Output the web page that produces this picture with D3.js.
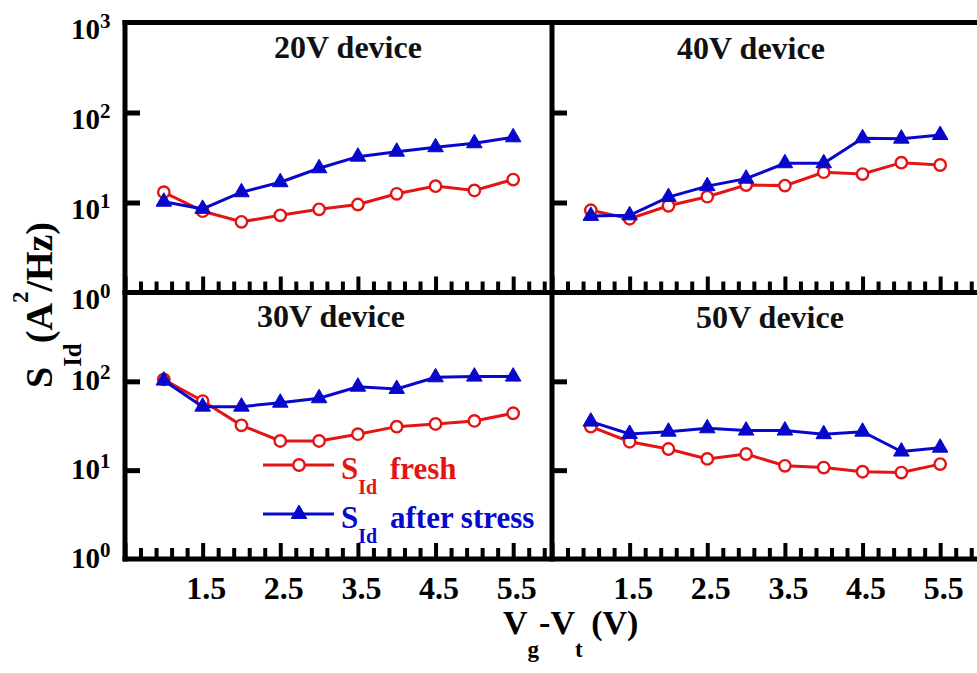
<!DOCTYPE html>
<html>
<head>
<meta charset="utf-8">
<script src="https://cdn.jsdelivr.net/npm/d3@7"></script>
<style>
  body { margin: 0; background: #fff; }
  svg { display: block; }
  text { font-family: "Liberation Serif", "Times New Roman", serif; font-weight: bold; }
</style>
</head>
<body>
<svg id="chart" width="977" height="673"></svg>
<script>
// Gate overdrive values (V) shared by every device
const vgvt = [1.0, 1.5, 2.0, 2.5, 3.0, 3.5, 4.0, 4.5, 5.0, 5.5];
const deviceNames = ["20V device", "40V device", "30V device", "50V device"];

// Drain-current noise PSD S_Id (A^2/Hz), fresh vs. after stress
const fresh20  = [13.0, 8.0, 6.1, 7.2, 8.4, 9.5, 12.5, 15.2, 13.6, 18.0];
const stress20 = [10.2, 8.5, 13.0, 16.8, 24.0, 32.3, 36.7, 41.1, 45.5, 53.0];
const fresh40  = [8.2, 6.6, 9.2, 11.6, 15.6, 15.4, 21.7, 20.7, 27.7, 26.1];
const stress40 = [7.1, 7.2, 11.5, 15.2, 18.4, 27.3, 27.3, 51.7, 51.2, 56.2];
const fresh30  = [105, 60, 32, 21.3, 21.3, 25.4, 30.9, 33.1, 35.8, 43.7];
const stress30 = [102, 51.9, 51.9, 57.5, 64.5, 87, 82, 111, 113, 113];
const fresh50  = [30.9, 20.9, 17.3, 13.4, 15.2, 11.2, 10.7, 9.6, 9.4, 11.7];
const stress50 = [35.2, 25.6, 27.1, 29.6, 27.9, 27.9, 25.4, 27.1, 16.2, 17.9];

const xLabelTicks = [1.5, 2.5, 3.5, 4.5, 5.5];
const yDecades = [1, 10, 100, 1000];
const legendLabels = ["fresh", "after stress"];

const RED = "#e41414", BLUE = "#0808cc";
const svg = d3.select("#chart");

// panel grid (pixel layout)
const colL = [125, 552], colR = [552, 979];
const rowT = [22.5, 292.5], rowB = [292.5, 559];

const panels = [
  { title: deviceNames[0], fresh: fresh20, stress: stress20, xr: colL, yr: rowT, row: 0, col: 0, tpos: [348, 58] },
  { title: deviceNames[1], fresh: fresh40, stress: stress40, xr: colR, yr: rowT, row: 0, col: 1, tpos: [751, 59] },
  { title: deviceNames[2], fresh: fresh30, stress: stress30, xr: colL, yr: rowB, row: 1, col: 0, tpos: [331, 327] },
  { title: deviceNames[3], fresh: fresh50, stress: stress50, xr: colR, yr: rowB, row: 1, col: 1, tpos: [770, 328] }
];

const majorX = d3.range(0, 6).map(i => 0.5 + i);
const minorX = d3.range(0, 28).map(i => +(0.5 + i * 0.2).toFixed(2))
  .filter(v => Math.abs(((v - 0.5) % 1)) > 1e-6 && Math.abs(((v - 0.5) % 1) - 1) > 1e-6);

const triangle = d3.symbol().type(d3.symbolTriangle).size(105);

panels.forEach(p => {
  const x = d3.scaleLinear().domain([0.5, 6]).range(p.xr);
  const y = d3.scaleLog().domain([1, 1000]).range([p.yr[1], p.yr[0]]);
  const g = svg.append("g");

  // bottom x ticks, pointing inward
  const xMajor = d3.axisBottom(x).tickValues(majorX).tickSize(-16)
    .tickFormat(d => (p.row === 1 && xLabelTicks.includes(d)) ? d3.format(".1f")(d) : "");
  const xMinor = d3.axisBottom(x).tickValues(minorX).tickSize(-11).tickFormat("");
  [xMajor, xMinor].forEach(ax => {
    const a = g.append("g").attr("transform", `translate(0,${p.yr[1]})`).call(ax);
    a.select(".domain").remove();
    a.selectAll(".tick line").attr("stroke", "#000").attr("stroke-width", 4);
    a.selectAll(".tick text").attr("y", 40).attr("dy", 0).attr("dx", 3)
      .attr("font-size", 32).attr("fill", "#000")
      .style("font-family", "'Liberation Serif', serif").style("font-weight", "bold");
  });

  // left y ticks, pointing inward
  const yAx = g.append("g").attr("transform", `translate(${p.xr[0]},0)`)
    .call(d3.axisRight(y).tickValues([10, 100]).tickSize(15).tickFormat(""));
  yAx.select(".domain").remove();
  yAx.selectAll(".tick line").attr("stroke", "#000").attr("stroke-width", 5);

  // decade labels on the outer left axis
  if (p.col === 0) {
    const vals = p.row === 0 ? yDecades : yDecades.slice(0, 3);
    const shift = p.row === 0 ? 16.5 : 8.5;
    vals.forEach(v => {
      const by = y(v) + shift;
      svg.append("text").attr("x", 100).attr("y", by).attr("text-anchor", "end")
        .attr("font-size", 29).text("10");
      svg.append("text").attr("x", 100).attr("y", by - 11).attr("font-size", 21)
        .text(Math.round(Math.log10(v)));
    });
  }

  const line = d3.line().x((d, i) => x(vgvt[i])).y(d => y(d));

  g.append("path").datum(p.fresh).attr("d", line)
    .attr("fill", "none").attr("stroke", RED).attr("stroke-width", 3);
  g.selectAll(".fr").data(p.fresh).join("circle").attr("class", "fr")
    .attr("cx", (d, i) => x(vgvt[i])).attr("cy", d => y(d)).attr("r", 5.7)
    .attr("fill", "#fff").attr("stroke", RED).attr("stroke-width", 2.4);

  g.append("path").datum(p.stress).attr("d", line)
    .attr("fill", "none").attr("stroke", BLUE).attr("stroke-width", 3);
  g.selectAll(".st").data(p.stress).join("path").attr("class", "st")
    .attr("d", triangle)
    .attr("transform", (d, i) => `translate(${x(vgvt[i])},${y(d)})`)
    .attr("fill", BLUE).attr("stroke", BLUE).attr("stroke-width", 1);

  svg.append("text").attr("x", p.tpos[0]).attr("y", p.tpos[1])
    .attr("text-anchor", "middle").attr("font-size", 32).attr("fill", "#111").text(p.title);
});

// frame
const frame = svg.append("g").attr("stroke", "#000").attr("stroke-width", 5).attr("stroke-linecap", "square");
frame.append("line").attr("x1", 125).attr("x2", 125).attr("y1", 22.5).attr("y2", 559);
frame.append("line").attr("x1", 552).attr("x2", 552).attr("y1", 22.5).attr("y2", 559);
[22.5, 292.5, 559].forEach(yy =>
  frame.append("line").attr("x1", 125).attr("x2", 980).attr("y1", yy).attr("y2", yy));

// legend inside the 30V panel
const legend = svg.append("g");
const legItems = [
  { color: RED, y: 465, marker: "circle", label: legendLabels[0] },
  { color: BLUE, y: 514, marker: "tri", label: legendLabels[1] }
];
legItems.forEach(it => {
  legend.append("line").attr("x1", 263).attr("x2", 334).attr("y1", it.y).attr("y2", it.y)
    .attr("stroke", it.color).attr("stroke-width", 3);
  if (it.marker === "circle") {
    legend.append("circle").attr("cx", 299).attr("cy", it.y).attr("r", 5.7)
      .attr("fill", "#fff").attr("stroke", it.color).attr("stroke-width", 2.4);
  } else {
    legend.append("path").attr("d", triangle).attr("transform", `translate(299,${it.y})`)
      .attr("fill", it.color).attr("stroke", it.color).attr("stroke-width", 1);
  }
  const t = legend.append("text").attr("x", 341).attr("y", it.y + 13.5)
    .attr("font-size", 31).attr("fill", it.color);
  t.append("tspan").text("S");
  t.append("tspan").attr("font-size", 20).attr("dy", 15).text("Id");
  t.append("tspan").attr("x", 390).attr("dy", -15).text(it.label);
});

// y-axis title
const yt = svg.append("text").attr("transform", "translate(52,388) rotate(-90)")
  .attr("font-size", 38).attr("fill", "#000");
yt.append("tspan").text("S");
yt.append("tspan").attr("font-size", 25).attr("dy", 29).text("Id");
yt.append("tspan").attr("dy", -29).text("(A");
yt.append("tspan").attr("font-size", 23).attr("dy", -24).text("2");
yt.append("tspan").attr("dy", 24).text("/Hz)");

// x-axis title
const xt = svg.append("text").attr("x", 503).attr("y", 634)
  .attr("font-size", 34).attr("fill", "#000");
xt.append("tspan").text("V");
xt.append("tspan").attr("font-size", 23).attr("dy", 23).text("g");
xt.append("tspan").attr("dy", -23).text("-V");
xt.append("tspan").attr("font-size", 23).attr("dy", 23).text("t");
xt.append("tspan").attr("dy", -23).text(" (V)");
</script>
</body>
</html>
